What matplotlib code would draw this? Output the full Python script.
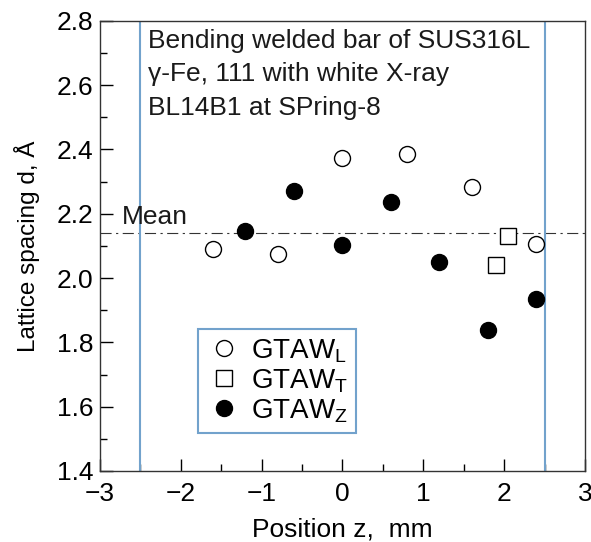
import matplotlib
matplotlib.use("Agg")
import matplotlib.pyplot as plt
from matplotlib.ticker import MultipleLocator, FuncFormatter

plt.rcParams["font.family"] = ["Liberation Sans", "DejaVu Sans"]

# GTAW_L (open circles)
l_pos = [-1.6, -0.8, 0.0, 0.8, 1.6, 2.4]
l_d   = [2.089, 2.074, 2.374, 2.387, 2.282, 2.107]

# GTAW_T (open squares)
t_pos = [1.9, 2.05]
t_d   = [2.041, 2.130]

# GTAW_Z (filled circles)
z_pos = [-1.2, -0.6, 0.0, 0.6, 1.2, 1.8, 2.4]
z_d   = [2.145, 2.272, 2.104, 2.237, 2.051, 1.838, 1.934]

MEAN_D = 2.139
BOUNDS = [-2.5, 2.5]
NOTE = ["Bending welded bar of SUS316L",
        "\u03b3-Fe, 111 with white X-ray",
        "BL14B1 at SPring-8"]

LINE_BLUE = "#72a2cc"
FS = 19

fig = plt.figure(figsize=(5.91, 5.42), dpi=100)
ax = fig.add_axes([0.1692, 0.131, 0.8206, 0.8308])

ax.axhline(MEAN_D, color="#333333", lw=0.8, dashes=(10, 4, 2, 4))
for b in BOUNDS:
    ax.axvline(b, color=LINE_BLUE, lw=1.5)

ms = 11.5
ax.plot(l_pos, l_d, "o", ms=ms, mfc="white", mec="black", mew=1.0,
        ls="none", label=r"GTAW$_\mathregular{L}$", zorder=3)
ax.plot(t_pos, t_d, "s", ms=ms, mfc="white", mec="black", mew=1.0,
        ls="none", label=r"GTAW$_\mathregular{T}$", zorder=3)
ax.plot(z_pos, z_d, "o", ms=ms, mfc="black", mec="black", mew=1.0,
        ls="none", label=r"GTAW$_\mathregular{Z}$", zorder=3)

ax.set_xlim(-3, 3)
ax.set_ylim(1.4, 2.8)
ax.xaxis.set_major_locator(MultipleLocator(1))
ax.xaxis.set_minor_locator(MultipleLocator(0.5))
ax.yaxis.set_major_locator(MultipleLocator(0.2))
ax.yaxis.set_minor_locator(MultipleLocator(0.1))
ax.tick_params(which="major", direction="in", length=9, width=1.0,
               top=False, right=False, labelsize=FS)
ax.tick_params(which="minor", direction="in", length=5, width=1.0,
               top=False, right=False)
ax.tick_params(axis="x", which="major", pad=8)
ax.tick_params(axis="y", which="major", pad=5)
ax.xaxis.set_major_formatter(FuncFormatter(
    lambda v, p: f"{v:.0f}".replace("-", "\u2212")))
for s in ax.spines.values():
    s.set_linewidth(1.0)
    s.set_color("#333333")

ax.set_xlabel("Position z,  mm", fontsize=FS, labelpad=8)
ax.set_ylabel("Lattice spacing d, \u00c5", fontsize=17.5, labelpad=12)

for i, line in enumerate(NOTE):
    ax.text(-2.405, 2.715 - 0.104 * i, line, fontsize=FS,
            va="baseline", ha="left", color="#1a1a1a")
ax.text(-2.73, 2.168, "Mean", fontsize=FS, va="baseline", ha="left",
        color="#1a1a1a")

leg = ax.legend(loc="lower left", bbox_to_anchor=(0.202, 0.084), fontsize=20,
                frameon=True, fancybox=False, handletextpad=0.3,
                borderpad=0.3, labelspacing=0.08, handlelength=1.3,
                borderaxespad=0, markerscale=1.0, framealpha=1)
leg.get_frame().set_edgecolor(LINE_BLUE)
leg.get_frame().set_linewidth(1.5)

fig.savefig("out.png", dpi=100)
